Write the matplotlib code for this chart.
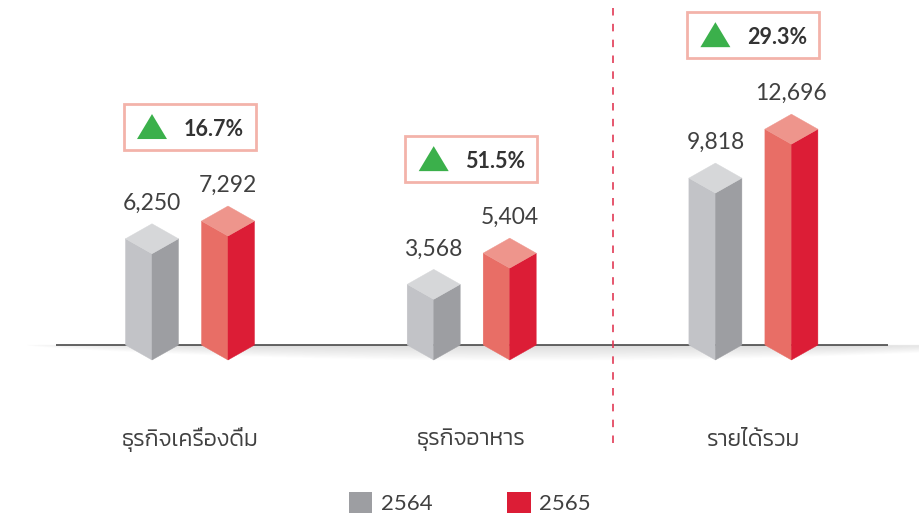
import matplotlib
matplotlib.use("Agg")
import matplotlib.pyplot as plt
import numpy as np
from matplotlib.patches import Polygon, Rectangle, Patch
from matplotlib import font_manager as fm
from matplotlib.ft2font import FT2Font

# ---------------- data ----------------
categories = ["ธุรกิจเครื่องดื่ม", "ธุรกิจอาหาร", "รายได้รวม"]
series_names = ["2564", "2565"]
values_2564 = [6250, 3568, 9818]
values_2565 = [7292, 5404, 12696]
growth_labels = ["16.7%", "51.5%", "29.3%"]

# ---------------- fonts ----------------
def thai_fonts():
    names = []
    checked = set()
    for f in fm.fontManager.ttflist:
        if f.fname in checked:
            continue
        checked.add(f.fname)
        try:
            cm = FT2Font(f.fname).get_charmap()
            if 0x0E18 in cm and 0x0E01 in cm and f.name not in names:
                names.append(f.name)
        except Exception:
            pass
    return names

tf = thai_fonts()
pref = ["Kanit", "Prompt", "Noto Sans Thai", "Noto Sans Thai UI", "Sarabun",
        "Sawasdee", "Loma", "Waree", "Garuda"]
thai = next((p for p in pref if p in tf), tf[0] if tf else None)
installed = {f.name for f in fm.fontManager.ttflist}
latin = "Lato" if "Lato" in installed else "DejaVu Sans"
thai_family = ([thai] if thai else []) + ["DejaVu Sans"]

# ---------------- layout (pixel based figure) ----------------
W, H, DPI = 919, 517, 100
fig = plt.figure(figsize=(W / DPI, H / DPI), dpi=DPI)
ax = fig.add_axes([0, 0, 1, 1])

px_per_x = 281.7          # pixels per category unit
px_per_v = 0.0170         # pixels per value unit
x0_px, base_px = 190.0, 345.0
ax.set_xlim(-x0_px / px_per_x, (W - x0_px) / px_per_x)
ax.set_ylim(-(H - base_px) / px_per_v, base_px / px_per_v)
ax.axis("off")

def dx(p):
    return p / px_per_x

def dv(p):
    return p / px_per_v

half_w = dx(26.5)
offset = dx(38.0)
depth = dv(15.0)

colors = {
    "2564": dict(left="#c2c3c7", right="#9d9ea2", top="#d6d7d9", legend="#9d9ea2"),
    "2565": dict(left="#e86e66", right="#dc1d36", top="#ee958c", legend="#dc1d36"),
}

# shadow under baseline
xlim = ax.get_xlim()
xs = np.linspace(xlim[0], xlim[1], 900)
ys = np.linspace(-dv(20), dv(1), 120)
X, Y = np.meshgrid(xs, ys)
xl, xr = dx(26 - 190), dx(919 + 120 - 190)
t = np.clip((X - xl) / (xr - xl), 0, 1)
prof = np.sin(np.pi * t) ** 0.7
shadow_depth = dv(16) * prof + 1e-9
frac = np.clip(1 - (-Y) / shadow_depth, 0, 1)
a = np.where(Y <= 0, frac ** 0.9, 0) * (0.25 + 0.75 * np.clip(prof * 1.5, 0, 1)) * 0.36
a = np.where(t <= 0, 0, a)
rgba = np.zeros(X.shape + (4,))
rgba[..., :3] = 0.62
rgba[..., 3] = a
ax.imshow(rgba, extent=[xs[0], xs[-1], ys[0], ys[-1]], origin="lower",
          aspect="auto", zorder=1, interpolation="bilinear")
ax.set_xlim(*xlim)
ax.set_ylim(-(H - base_px) / px_per_v, base_px / px_per_v)

# baseline
ax.hlines(0, dx(56 - 190), dx(888 - 190), color="#3a3a3a", lw=1.1, zorder=2)

# dashed separator
ax.vlines(1.5, dv(base_px - 443), dv(base_px - 8), color="#e23a55", lw=1.2,
          linestyles=(0, (4.5, 5)), zorder=2)

def prism(c, v, col):
    left = [(c - half_w, v), (c, v - depth), (c, -depth), (c - half_w, 0)]
    right = [(c, v - depth), (c + half_w, v), (c + half_w, 0), (c, -depth)]
    top = [(c - half_w, v), (c, v + depth), (c + half_w, v), (c, v - depth)]
    for pts, fc in ((left, col["left"]), (right, col["right"]), (top, col["top"])):
        ax.add_patch(Polygon(pts, closed=True, facecolor=fc, edgecolor=fc,
                             lw=0.3, zorder=3))

for i, (v1, v2) in enumerate(zip(values_2564, values_2565)):
    for c, v, name in ((i - offset, v1, "2564"), (i + offset, v2, "2565")):
        prism(c, v, colors[name])
        ax.text(c, v + depth + dv(14), f"{v:,}", ha="center", va="baseline",
                fontsize=16.5, color="#404040", family=latin, fontweight="normal",
                zorder=5)

    # growth box
    box_l = i - offset - half_w - dx(2)
    box_r = i + offset + half_w + dx(1)
    box_b = v2 + depth + dv(56)
    box_h = dv(46)
    ax.add_patch(Rectangle((box_l, box_b), box_r - box_l, box_h, facecolor="white",
                           edgecolor="#f3b3aa", lw=2.0, zorder=4))
    cy = box_b + box_h / 2
    tri = [(i - offset - dx(15), cy - dv(12)), (i - offset + dx(15), cy - dv(12)),
           (i - offset, cy + dv(13))]
    ax.add_patch(Polygon(tri, closed=True, facecolor="#3bb04b", edgecolor="none",
                         zorder=5))
    ax.text(box_r - dx(12), cy, growth_labels[i], ha="right", va="center_baseline",
            fontsize=15.5, fontweight="bold", color="#333333", family=latin, zorder=5)

    ax.text(i, dv(base_px - 440), categories[i], ha="center", va="center",
            fontsize=16.5, color="#404040", family=thai_family, fontweight=300,
            zorder=5)

# legend
handles = [Patch(facecolor=colors[n]["legend"], edgecolor="none") for n in series_names]
leg = fig.legend(handles, series_names, loc="center", bbox_to_anchor=(470 / W, 1 - 503 / H),
                 ncol=2, frameon=False, handlelength=1.05, handleheight=1.05,
                 handletextpad=0.4, columnspacing=3.35,
                 prop=dict(family=latin, size=16, weight="normal"))
for t_ in leg.get_texts():
    t_.set_color("#404040")

fig.savefig("out.png", dpi=DPI, facecolor="white")
